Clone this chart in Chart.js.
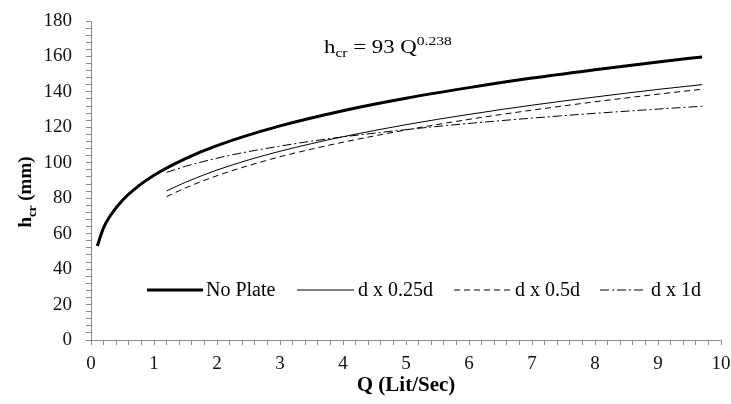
<!DOCTYPE html>
<html>
<head>
<meta charset="utf-8">
<script src="https://cdn.jsdelivr.net/npm/chart.js@4.4.0/dist/chart.umd.min.js"></script>
<style>
  html, body { margin: 0; padding: 0; background: #fff; }
  #wrap { width: 731px; height: 404px; position: relative; }
</style>
</head>
<body>
<div id="wrap"><canvas id="hcrChart"></canvas></div>
<script>
// Q (Lit/Sec) and critical depth h_cr (mm)
const qNoPlate = [0.1, 0.2, 0.3, 0.5, 0.75, 1, 1.5, 2, 3, 4, 5, 6, 7, 8, 9, 9.7];
const hNoPlate = [53.0, 63.4, 69.8, 78.9, 86.8, 93.0, 102.4, 109.7, 120.8, 129.4, 136.4, 142.4, 147.8, 152.5, 156.9, 159.7];

const qPlate = [1.2, 1.5, 2, 2.5, 3, 3.5, 4, 5, 6, 7, 8, 9, 9.7];
const hPlate025 = [84.1, 89.0, 95.9, 101.6, 106.5, 110.8, 114.7, 121.5, 127.3, 132.5, 137.1, 141.4, 144.1];
const hPlate05 = [80.9, 85.8, 92.7, 98.4, 103.4, 107.7, 111.6, 118.5, 124.5, 129.7, 134.4, 138.7, 141.5];
const hPlate1 = [94.6, 98.0, 102.6, 106.3, 109.4, 112.2, 114.6, 118.7, 122.2, 125.2, 127.9, 130.3, 131.9];

const seriesNames = ['No Plate', 'd x 0.25d', 'd x 0.5d', 'd x 1d'];

const FONT = '"Liberation Serif", "Times New Roman", serif';
const AXIS_GRAY = '#8c8c8c';

function pts(xs, ys) {
  return xs.map((x, i) => ({ x: x, y: ys[i] }));
}

function lineSet(label, xs, ys, width, dash) {
  return {
    label: label,
    data: pts(xs, ys),
    showLine: true,
    borderColor: '#000',
    borderWidth: width,
    borderDash: dash,
    pointRadius: 0,
    fill: false,
    cubicInterpolationMode: 'monotone'
  };
}

// legend row, equation and axis titles (with subscripts)
const extrasPlugin = {
  id: 'extras',
  afterDraw(chart) {
    const ctx = chart.ctx;
    ctx.save();
    ctx.fillStyle = '#000';
    ctx.textBaseline = 'alphabetic';

    // equation, set a little wide
    ctx.save();
    ctx.translate(324, 53);
    ctx.scale(1.2, 1);
    let x = 0;
    const parts = [
      ['h', '19px', 0], ['cr', '13px', 4], [' = 93 Q', '19px', 0], ['0.238', '13px', -8]
    ];
    parts.forEach(p => {
      ctx.font = p[1] + ' ' + FONT;
      ctx.fillText(p[0], x, p[2]);
      x += ctx.measureText(p[0]).width;
    });
    ctx.restore();

    // legend
    const ly = 290;
    const items = [
      { x0: 147, x1: 203, tx: 206 },
      { x0: 297, x1: 354, tx: 358 },
      { x0: 454, x1: 511, tx: 515 },
      { x0: 600, x1: 645, tx: 651 }
    ];
    ctx.font = '20px ' + FONT;
    ctx.textBaseline = 'middle';
    chart.data.datasets.forEach((ds, i) => {
      const it = items[i];
      ctx.beginPath();
      ctx.lineWidth = ds.borderWidth;
      ctx.strokeStyle = ds.borderColor;
      ctx.setLineDash(ds.borderDash || []);
      ctx.moveTo(it.x0, ly);
      ctx.lineTo(it.x1, ly);
      ctx.stroke();
      ctx.setLineDash([]);
      ctx.fillText(seriesNames[i], it.tx, ly + 1);
    });

    // x title
    ctx.textAlign = 'center';
    ctx.textBaseline = 'middle';
    ctx.font = 'bold 21px ' + FONT;
    ctx.fillText('Q (Lit/Sec)', 406, 386);

    // y title, rotated
    ctx.translate(24, 192);
    ctx.rotate(-Math.PI / 2);
    const ySegs = [['h', 'bold 19px', 0], ['cr', 'bold 13px', 5], [' (mm)', 'bold 19px', 0]];
    let total = 0;
    ySegs.forEach(s => { ctx.font = s[1] + ' ' + FONT; total += ctx.measureText(s[0]).width; });
    let yx = -total / 2;
    ctx.textAlign = 'left';
    ctx.textBaseline = 'alphabetic';
    ySegs.forEach(s => {
      ctx.font = s[1] + ' ' + FONT;
      ctx.fillText(s[0], yx, 7 + s[2]);
      yx += ctx.measureText(s[0]).width;
    });
    ctx.restore();
  }
};

const chart = new Chart(document.getElementById('hcrChart'), {
  type: 'scatter',
  data: {
    datasets: [
      lineSet(seriesNames[0], qNoPlate, hNoPlate, 3, []),
      lineSet(seriesNames[1], qPlate, hPlate025, 1, []),
      lineSet(seriesNames[2], qPlate, hPlate05, 1, [6, 4]),
      lineSet(seriesNames[3], qPlate, hPlate1, 1, [9, 3, 2, 3])
    ]
  },
  options: {
    responsive: true,
    maintainAspectRatio: false,
    animation: false,
    layout: { padding: { top: 21, right: 0, left: 0, bottom: 0 } },
    plugins: {
      legend: { display: false },
      tooltip: { enabled: false }
    },
    scales: {
      x: {
        type: 'linear',
        min: 0,
        max: 10,
        border: { color: AXIS_GRAY, width: 1 },
        grid: { drawOnChartArea: false, tickLength: 5, color: AXIS_GRAY },
        ticks: {
          stepSize: 0.2,
          autoSkip: false,
          maxRotation: 0,
          padding: 8,
          color: '#111',
          font: { family: FONT, size: 19 },
          callback: v => Math.abs(v - Math.round(v)) < 1e-6 ? Math.round(v) : ''
        },
        afterFit: s => { s.height = 64; s.paddingRight = 10; s.paddingLeft = 0; }
      },
      y: {
        min: 0,
        max: 180,
        border: { color: AXIS_GRAY, width: 1 },
        grid: { drawOnChartArea: false, tickLength: 5, color: AXIS_GRAY },
        ticks: {
          stepSize: 4,
          autoSkip: false,
          padding: 14,
          color: '#111',
          font: { family: FONT, size: 19 },
          callback: v => v % 20 === 0 ? v : ''
        },
        afterFit: s => { s.width = 91; s.paddingTop = 0; s.paddingBottom = 0; }
      }
    }
  },
  plugins: [extrasPlugin]
});
</script>
</body>
</html>
